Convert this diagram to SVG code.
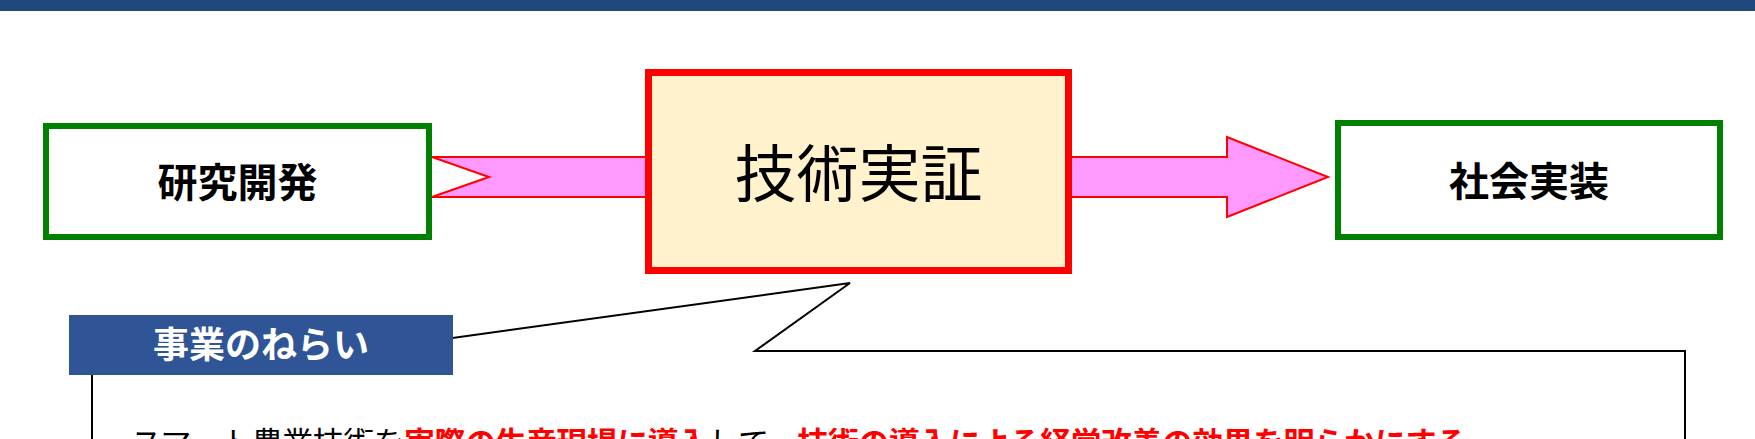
<svg xmlns="http://www.w3.org/2000/svg" width="1755" height="439" viewBox="0 0 1755 439">
  <style>
    .jp { font-family: "Noto Sans CJK JP", "Noto Sans CJK SC", sans-serif; }
    .node-green { fill: #FFFFFF; stroke: #008000; stroke-width: 6; }
    .node-red { fill: #FFF2CC; stroke: #FF0000; stroke-width: 7; }
    .band { fill: #FF99FF; stroke: #FF0000; stroke-width: 2; stroke-linejoin: miter; }
    .bold-lbl { font-weight: 700; font-size: 40px; fill: #000000; }
    .red { fill: #FF0000; font-weight: 700; }
    .blk { fill: #000000; font-weight: 400; }
  </style>
  <rect x="0" y="0" width="1755" height="11" fill="#1F497D"/>

  <g id="connectors">
    <polygon class="band" points="432,157 660,157 660,197 432,197 489,177"/>
    <polygon class="band" points="1060,157 1227,157 1227,137 1328,177 1227,217 1227,197 1060,197"/>
  </g>

  <g id="node-research">
    <rect class="node-green" x="46" y="126" width="383" height="111"/>
    <text class="jp bold-lbl" x="237.5" y="196.5" text-anchor="middle">研究開発</text>
  </g>

  <g id="node-demo">
    <rect class="node-red" x="648.5" y="72.5" width="420" height="198"/>
    <text class="jp" x="858.5" y="197" text-anchor="middle" font-size="62" font-weight="400" fill="#000000">技術実証</text>
  </g>

  <g id="node-social">
    <rect class="node-green" x="1338" y="123" width="382" height="114"/>
    <text class="jp bold-lbl" x="1529" y="196" text-anchor="middle">社会実装</text>
  </g>

  <g id="callout">
    <path d="M92,351 L359,351 L850,283 L755,351 L1685,351 L1685,470 L92,470 Z" fill="#FFFFFF" stroke="#000000" stroke-width="2" stroke-linejoin="miter"/>
    <text class="jp" x="131" y="454" font-size="31" textLength="1336" lengthAdjust="spacing"><tspan class="blk">スマート農業技術を</tspan><tspan class="red">実際の生産現場に導入</tspan><tspan class="blk">して、</tspan><tspan class="red">技術の導入による経営改善の効果を明らかにする</tspan></text>
  </g>

  <g id="label-aim">
    <rect x="69" y="315" width="384" height="60" fill="#2F5597"/>
    <text class="jp" x="261" y="358" text-anchor="middle" font-size="36" font-weight="700" fill="#FFFFFF">事業のねらい</text>
  </g>
</svg>
